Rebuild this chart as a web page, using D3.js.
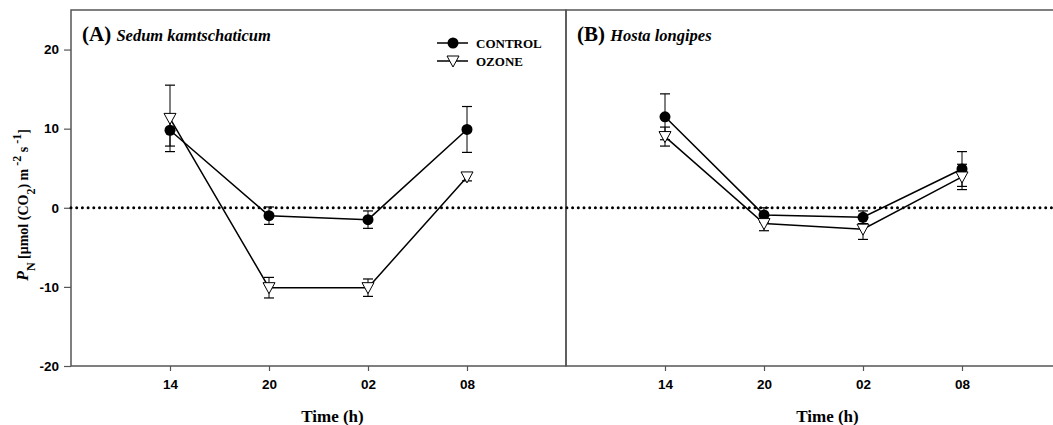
<!DOCTYPE html>
<html>
<head>
<meta charset="utf-8">
<script src="https://cdn.jsdelivr.net/npm/d3@7"></script>
<style>
  body { margin: 0; background: #fff; }
  .tick text { font-family: 'Liberation Sans', Arial, sans-serif; font-weight: bold; font-size: 13.5px; }
  .serif { font-family: 'Liberation Serif', 'Times New Roman', serif; font-weight: bold; }
</style>
</head>
<body>
<div id="chart"></div>
<script>
const times = ['14', '20', '02', '08'];
const yTicks = [-20, -10, 0, 10, 20];

const sedumControl = [9.8, -1.0, -1.5, 9.9];
const sedumControlErr = [2.0, 1.1, 1.1, 2.9];
const sedumOzone = [11.3, -10.1, -10.1, 3.9];
const sedumOzoneErr = [4.2, 1.3, 1.1, 0.5];

const hostaControl = [11.5, -0.9, -1.2, 4.9];
const hostaControlErr = [2.9, 0.9, 0.8, 2.2];
const hostaOzone = [9.0, -2.0, -2.7, 3.9];
const hostaOzoneErr = [1.2, 0.9, 1.3, 1.6];

const config = {
  width: 1053,
  height: 425,
  panelWidth: 495,
  top: 10,
  bottom: 366,
};

const svg = d3.select('#chart')
  .append('svg')
  .attr('width', config.width)
  .attr('height', config.height);

const yScale = d3.scaleLinear()
  .domain([-20, 25])
  .range([config.bottom, config.top]);

const xScale = d3.scaleLinear()
  .domain([0, 5])
  .range([0, config.panelWidth]);

const trianglePath = 'M-6,-5 L6,-5 L0,6 Z';

function drawPanel(left, label, species, control, controlErr, ozone, ozoneErr, showY) {
  const g = svg.append('g').attr('transform', `translate(${left},0)`);
  const ph = config.bottom - config.top;

  // frame
  g.append('rect')
    .attr('x', 0)
    .attr('y', config.top)
    .attr('width', config.panelWidth)
    .attr('height', ph)
    .attr('fill', 'none')
    .attr('stroke', '#555')
    .attr('stroke-width', 1.5);

  const xAxis = d3.axisBottom(xScale)
    .tickValues([1, 2, 3, 4])
    .tickFormat((d, i) => times[i])
    .tickSize(5)
    .tickPadding(8)
    .tickSizeOuter(0);

  const xg = g.append('g')
    .attr('transform', `translate(0,${config.bottom})`)
    .call(xAxis);
  xg.select('.domain').remove();
  xg.selectAll('.tick line').attr('stroke', '#555').attr('stroke-width', 1.2);

  if (showY) {
    const yAxis = d3.axisLeft(yScale)
      .tickValues(yTicks)
      .tickFormat((d) => String(d))
      .tickSize(7)
      .tickPadding(5);
    const yg = g.append('g').call(yAxis);
    yg.select('.domain').remove();
    yg.selectAll('.tick line').attr('stroke', '#555').attr('stroke-width', 1.2);
  }

  // title
  const title = g.append('text')
    .attr('class', 'serif')
    .attr('x', 11)
    .attr('y', 41)
    .style('font-size', '21px');
  title.append('tspan').text(label + ' ');
  title.append('tspan').style('font-style', 'italic').style('font-size', '16.5px').text(species);

  // x label
  g.append('text')
    .attr('class', 'serif')
    .attr('x', config.panelWidth / 2 + 14)
    .attr('y', 422)
    .attr('text-anchor', 'middle')
    .style('font-size', '17px')
    .text('Time (h)');

  const series = [
    { values: control, err: controlErr, type: 'circle' },
    { values: ozone, err: ozoneErr, type: 'triangle' },
  ];

  const line = d3.line()
    .x((d, i) => xScale(i + 1))
    .y((d) => yScale(d));

  series.forEach((s) => {
    const eb = g.append('g');
    s.values.forEach((v, i) => {
      const x = xScale(i + 1);
      const y0 = yScale(v - s.err[i]);
      const y1 = yScale(v + s.err[i]);
      eb.append('line').attr('x1', x).attr('x2', x).attr('y1', y0).attr('y2', y1)
        .attr('stroke', '#000').attr('stroke-width', 1);
      [y0, y1].forEach((yy) => {
        eb.append('line').attr('x1', x - 5).attr('x2', x + 5).attr('y1', yy).attr('y2', yy)
          .attr('stroke', '#000').attr('stroke-width', 1.2);
      });
    });
  });

  series.forEach((s) => {
    g.append('path')
      .datum(s.values)
      .attr('d', line)
      .attr('fill', 'none')
      .attr('stroke', '#000')
      .attr('stroke-width', 1.5);
  });

  series.forEach((s) => {
    s.values.forEach((v, i) => {
      const x = xScale(i + 1);
      const y = yScale(v);
      if (s.type === 'circle') {
        g.append('circle').attr('cx', x).attr('cy', y).attr('r', 5.5).attr('fill', '#000');
      } else {
        g.append('path')
          .attr('d', trianglePath)
          .attr('transform', `translate(${x},${y})`)
          .attr('fill', '#fff')
          .attr('stroke', '#000')
          .attr('stroke-width', 1);
      }
    });
  });

  return g;
}

const panelA = drawPanel(71, '(A)', 'Sedum kamtschaticum', sedumControl, sedumControlErr, sedumOzone, sedumOzoneErr, true);
drawPanel(566, '(B)', 'Hosta longipes', hostaControl, hostaControlErr, hostaOzone, hostaOzoneErr, false);

// dotted zero line across both panels
svg.append('line')
  .attr('x1', 71)
  .attr('x2', config.width)
  .attr('y1', yScale(0))
  .attr('y2', yScale(0))
  .attr('stroke', '#000')
  .attr('stroke-width', 3)
  .attr('stroke-linecap', 'round')
  .attr('stroke-dasharray', '0 5.7');

// legend
const legend = panelA.append('g').attr('transform', 'translate(366,0)');
[{ name: 'CONTROL', y: 43, type: 'circle' }, { name: 'OZONE', y: 61, type: 'triangle' }].forEach((d) => {
  legend.append('line').attr('x1', 0).attr('x2', 31).attr('y1', d.y).attr('y2', d.y)
    .attr('stroke', '#000').attr('stroke-width', 1.5);
  if (d.type === 'circle') {
    legend.append('circle').attr('cx', 16).attr('cy', d.y).attr('r', 5.5).attr('fill', '#000');
  } else {
    legend.append('path').attr('d', trianglePath).attr('transform', `translate(16,${d.y})`)
      .attr('fill', '#fff').attr('stroke', '#000').attr('stroke-width', 1);
  }
  legend.append('text')
    .attr('class', 'serif')
    .attr('x', 39)
    .attr('y', d.y + 4.5)
    .style('font-size', '13px')
    .text(d.name);
});

// y label
const yLabel = svg.append('text')
  .attr('class', 'serif')
  .attr('transform', 'translate(28,205) rotate(-90)')
  .attr('text-anchor', 'middle')
  .style('font-size', '14px');
yLabel.append('tspan').style('font-style', 'italic').style('font-size', '16px').text('P');
yLabel.append('tspan').attr('baseline-shift', 'sub').style('font-size', '12px').text('N');
yLabel.append('tspan').text(' [μmol (CO');
yLabel.append('tspan').attr('baseline-shift', 'sub').style('font-size', '12px').text('2');
yLabel.append('tspan').text(') m');
yLabel.append('tspan').attr('baseline-shift', 'super').style('font-size', '12px').text(' -2');
yLabel.append('tspan').text(' s');
yLabel.append('tspan').attr('baseline-shift', 'super').style('font-size', '12px').text(' -1');
yLabel.append('tspan').text(']');
</script>
</body>
</html>
